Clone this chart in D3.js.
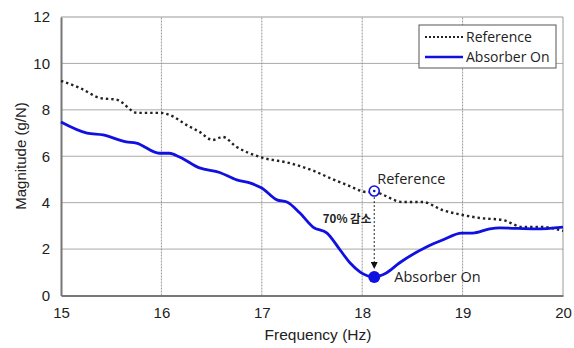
<!DOCTYPE html>
<html>
<head>
<meta charset="utf-8">
<script src="https://cdn.jsdelivr.net/npm/d3@7"></script>
<style>
  body { margin: 0; background: #fff; }
  svg { display: block; font-family: "Liberation Sans", Arial, sans-serif; }
</style>
</head>
<body>
<script>
// frequency (Hz) and magnitude (g/N)
const refFreq = [15.0, 15.19, 15.39, 15.56, 15.76, 15.99, 16.08, 16.25, 16.38, 16.51, 16.61, 16.75, 16.98, 17.28, 17.5, 17.68, 17.85, 18.04, 18.12, 18.4, 18.6, 18.8, 19.0, 19.17, 19.4, 19.6, 19.8, 20.0];
const refMag = [9.25, 8.94, 8.51, 8.43, 7.87, 7.87, 7.78, 7.35, 7.05, 6.7, 6.83, 6.4, 5.97, 5.7, 5.4, 5.06, 4.76, 4.46, 4.45, 4.03, 4.03, 3.68, 3.47, 3.34, 3.25, 2.95, 2.95, 2.78];

const absFreq = [15.0, 15.26, 15.42, 15.65, 15.75, 15.98, 16.08, 16.18, 16.38, 16.58, 16.75, 16.88, 17.0, 17.15, 17.25, 17.38, 17.51, 17.65, 17.78, 17.88, 17.98, 18.12, 18.24, 18.37, 18.64, 18.8, 18.99, 19.1, 19.27, 19.37, 19.73, 20.0];
const absMag = [7.48, 7.0, 6.92, 6.62, 6.57, 6.13, 6.13, 5.97, 5.5, 5.3, 4.98, 4.85, 4.63, 4.12, 4.03, 3.55, 2.95, 2.69, 1.96, 1.4, 1.01, 0.8, 0.97, 1.4, 2.09, 2.39, 2.69, 2.69, 2.87, 2.91, 2.87, 2.95];

const xTicks = [15, 16, 17, 18, 19, 20];
const yTicks = [0, 2, 4, 6, 8, 10, 12];
const seriesNames = ["Reference", "Absorber On"];
const markFreq = 18.12;
const markRef = 4.5;
const markAbs = 0.8;
const dropLabel = "70% 감소";

const width = 574, height = 348;
const x = d3.scaleLinear().domain([15, 20]).range([61, 563]);
const y = d3.scaleLinear().domain([0, 12]).range([295.5, 17]);

const svg = d3.select("body").append("svg").attr("width", width).attr("height", height);

// grid
svg.append("g").selectAll("line").data(yTicks.slice(1, -1)).join("line")
  .attr("x1", x(15)).attr("x2", x(20))
  .attr("y1", d => y(d)).attr("y2", d => y(d))
  .attr("stroke", "#aaa").attr("stroke-width", 1);
svg.append("g").selectAll("line").data(xTicks.slice(1, -1)).join("line")
  .attr("x1", d => x(d)).attr("x2", d => x(d))
  .attr("y1", y(0)).attr("y2", y(12))
  .attr("stroke", "#999").attr("stroke-dasharray", "2,1");

// frame
svg.append("line").attr("x1", x(15)).attr("x2", x(20)).attr("y1", y(12)).attr("y2", y(12)).attr("stroke", "#999");
svg.append("line").attr("x1", x(20)).attr("x2", x(20)).attr("y1", y(12)).attr("y2", y(0)).attr("stroke", "#999");

// axes
const xAxis = svg.append("g").attr("transform", `translate(0,${y(0)})`)
  .call(d3.axisBottom(x).tickValues(xTicks).tickSize(0).tickPadding(12).tickFormat(d3.format("d")));
const yAxis = svg.append("g").attr("transform", `translate(${x(15)},0)`)
  .call(d3.axisLeft(y).tickValues(yTicks).tickSize(0).tickPadding(11).tickFormat(d3.format("d")));
[xAxis, yAxis].forEach(a => {
  a.select(".domain").attr("stroke", "#777").attr("stroke-width", 2);
  a.selectAll("text").attr("font-size", 15).attr("fill", "#222")
    .attr("font-family", "'Liberation Sans', Arial, sans-serif");
});

svg.append("text").attr("x", 318).attr("y", 340).attr("text-anchor", "middle")
  .attr("font-size", 15.5).attr("fill", "#222").text("Frequency (Hz)");
svg.append("text").attr("transform", "translate(26,156) rotate(-90)").attr("text-anchor", "middle")
  .attr("font-size", 15).attr("fill", "#222").text("Magnitude (g/N)");

// series
const line = d3.line().curve(d3.curveMonotoneX);
svg.append("path")
  .attr("d", line(refFreq.map((f, i) => [x(f), y(refMag[i])])))
  .attr("fill", "none").attr("stroke", "#222").attr("stroke-width", 2.4)
  .attr("stroke-dasharray", "2.4,3");
svg.append("path")
  .attr("d", line(absFreq.map((f, i) => [x(f), y(absMag[i])])))
  .attr("fill", "none").attr("stroke", "#1010e0").attr("stroke-width", 2.8);

// annotation arrow
svg.append("defs").append("marker").attr("id", "ah")
  .attr("viewBox", "0 0 10 10").attr("refX", 10).attr("refY", 5)
  .attr("markerWidth", 7).attr("markerHeight", 7).attr("orient", "auto")
  .append("path").attr("d", "M0,0L10,5L0,10z").attr("fill", "#111");
svg.append("line").attr("x1", x(markFreq)).attr("x2", x(markFreq))
  .attr("y1", y(markRef) + 6).attr("y2", y(markAbs) - 8)
  .attr("stroke", "#222").attr("stroke-dasharray", "2,2").attr("marker-end", "url(#ah)");

svg.append("circle").attr("cx", x(markFreq)).attr("cy", y(markRef)).attr("r", 5)
  .attr("fill", "#fff").attr("stroke", "#1010e0").attr("stroke-width", 1.6);
svg.append("circle").attr("cx", x(markFreq)).attr("cy", y(markRef)).attr("r", 1.3).attr("fill", "#1010e0");
svg.append("circle").attr("cx", x(markFreq)).attr("cy", y(markAbs)).attr("r", 6).attr("fill", "#1010e0");

svg.append("text").attr("x", x(markFreq) + 3).attr("y", y(markRef) - 7)
  .attr("font-size", 14.5).attr("fill", "#222").attr("font-family", "'Open Sans', sans-serif").text(seriesNames[0]);
svg.append("text").attr("x", x(markFreq) + 20).attr("y", y(markAbs) + 5)
  .attr("font-size", 14.5).attr("fill", "#222").attr("font-family", "'Open Sans', sans-serif").text(seriesNames[1]);
svg.append("text").attr("x", x(markFreq) - 3).attr("y", 223).attr("text-anchor", "end")
  .attr("font-size", 11.5).attr("font-weight", "bold").attr("fill", "#222")
  .attr("font-family", "'Noto Sans CJK KR', sans-serif").text(dropLabel);

// legend
const lg = svg.append("g").attr("transform", "translate(419,25)");
lg.append("rect").attr("width", 137).attr("height", 43).attr("fill", "#fff").attr("stroke", "#555");
lg.append("line").attr("x1", 6).attr("x2", 44).attr("y1", 12).attr("y2", 12)
  .attr("stroke", "#222").attr("stroke-width", 2).attr("stroke-dasharray", "2,2");
lg.append("line").attr("x1", 6).attr("x2", 44).attr("y1", 32).attr("y2", 32)
  .attr("stroke", "#1010e0").attr("stroke-width", 2.5);
lg.selectAll("text").data(seriesNames).join("text")
  .attr("x", 47).attr("y", (d, i) => 17 + i * 20)
  .attr("font-size", 14).attr("fill", "#222").attr("font-family", "'Open Sans', sans-serif")
  .text(d => d);
</script>
</body>
</html>
